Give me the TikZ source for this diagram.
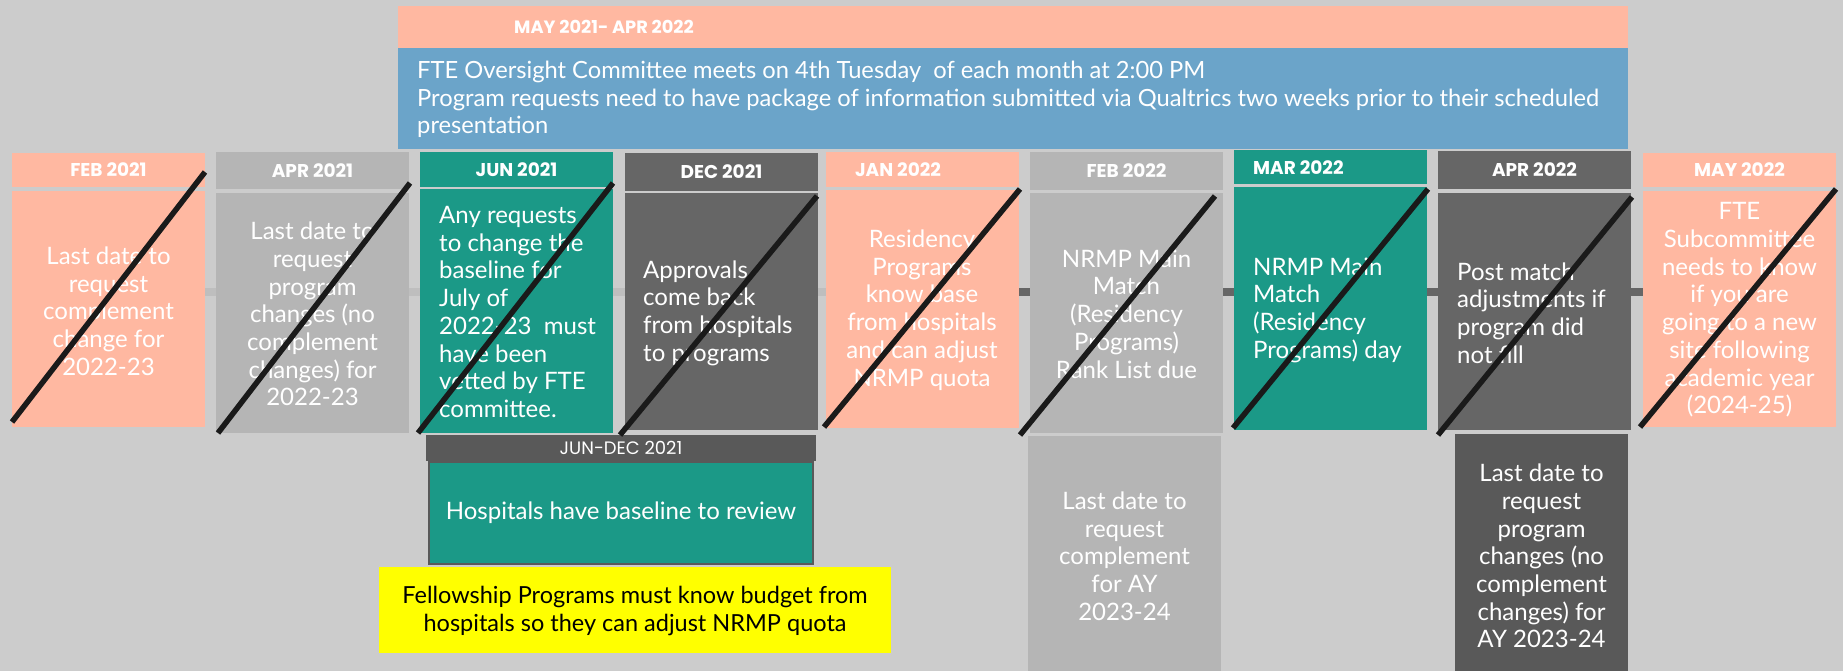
\documentclass[tikz,border=0pt]{standalone}
\usepackage{fontspec}
\setmainfont{Lato}
\newfontfamily\hdrfont{Poppins}
\definecolor{bgc}{HTML}{CCCCCC}
\definecolor{salmon}{HTML}{FFB8A1}
\definecolor{lgrey}{HTML}{B5B5B5}
\definecolor{tealc}{HTML}{1B9987}
\definecolor{dgrey}{HTML}{666666}
\definecolor{ddgrey}{HTML}{595959}
\definecolor{bluec}{HTML}{6BA4C9}
\definecolor{barl}{HTML}{BEBEBE}
\definecolor{slashc}{HTML}{1A1A1A}
\definecolor{yel}{HTML}{FFFF00}
\tikzset{
  rbox/.style={inner sep=0pt, outer sep=0pt, draw=none, anchor=north west},
  hdr/.style={font=\hdrfont\fontsize{18.5}{20}\selectfont\bfseries, text=white, inner sep=0pt},
  bodyc/.style={font=\fontsize{24}{27.7}\selectfont, text=white, inner sep=0pt, align=center},
  bodyl/.style={font=\fontsize{24}{27.7}\selectfont, text=white, inner sep=0pt, align=left, anchor=west},
  slash/.style={draw=slashc, line width=5.5pt},
}
\newcommand\rbx[6]{\node[rbox, fill=#6, minimum width={#4-#2}, minimum height={#5-#3}] (#1) at (#2,#3) {};}
\begin{document}
\begin{tikzpicture}[x=1pt,y=-1pt]
\useasboundingbox (0,0) rectangle (1843,671);
\fill[bgc] (0,0) rectangle (1843,671);
% timeline bar
\fill[barl] (12,288) rectangle (826,296);
\fill[dgrey] (1019,288) rectangle (1836,296);
% top banner
\rbx{banner}{398}{6}{1628}{48}{salmon}
\rbx{info}{398}{48}{1628}{149}{bluec}
\node[hdr, font=\hdrfont\fontsize{17.8}{20}\selectfont\bfseries, anchor=west] (bannert) at (514,27) {MAY 2021- APR 2022};
\node[bodyl, font=\fontsize{23.7}{27.3}\selectfont] (infot) at (417,99.5) {FTE Oversight Committee meets on 4th Tuesday~ of each month at 2:00 PM\\Program requests need to have package of information submitted via Qualtrics two weeks prior to their scheduled\\presentation};
% FEB 2021
\rbx{febh}{12}{153}{205}{187}{salmon}
\rbx{febb}{12}{191}{205}{427}{salmon}
\node[hdr] (febht) at (febh.center) {FEB 2021};
\node[bodyc] (febbt) at (108.5,311) {Last date to\\request\\complement\\change for\\2022-23};
% APR 2021
\rbx{aprh}{216}{152}{409}{189}{lgrey}
\rbx{aprb}{216}{193}{409}{433}{lgrey}
\node[hdr] (aprht) at (aprh.center) {APR 2021};
\node[bodyc] (aprbt) at (312.5,314) {Last date to\\request\\program\\changes (no\\complement\\changes) for\\2022-23};
% JUN 2021
\rbx{junh}{420}{152}{613}{187}{tealc}
\rbx{junb}{420}{189}{613}{433}{tealc}
\node[hdr] (junht) at (junh.center) {JUN 2021};
\node[bodyl] (junbt) at (439,312) {Any requests\\to change the\\baseline for\\July of\\2022-23~ must\\have been\\vetted by FTE\\committee.};
% DEC 2021
\rbx{dech}{625}{153}{818}{191}{dgrey}
\rbx{decb}{625}{193}{818}{430}{dgrey}
\node[hdr] (decht) at (dech.center) {DEC 2021};
\node[bodyl] (decbt) at (643,313) {Approvals\\come back\\from hospitals\\to programs};
% JAN 2022
\rbx{janh}{826}{152}{1019}{187}{salmon}
\rbx{janb}{826}{190}{1019}{428}{salmon}
\node[hdr] (janht) at (898,170) {JAN 2022};
\node[bodyc] (janbt) at (922,310) {Residency\\Programs\\know base\\from hospitals\\and can adjust\\NRMP quota};
% FEB 2022
\rbx{fbbh}{1030}{152}{1223}{190}{lgrey}
\rbx{fbbb}{1030}{193}{1223}{433}{lgrey}
\node[hdr] (fbbht) at (fbbh.center) {FEB 2022};
\node[bodyc] (fbbbt) at (1126.5,314) {NRMP Main\\Match\\(Residency\\Programs)\\Rank List due};
% MAR 2022
\rbx{marh}{1234}{150}{1427}{184}{tealc}
\rbx{marb}{1234}{187}{1427}{430}{tealc}
\node[hdr, anchor=west] (marht) at (1253,168) {MAR 2022};
\node[bodyl] (marbt) at (1253,310) {NRMP Main\\Match\\(Residency\\Programs) day};
% APR 2022
\rbx{apbh}{1438}{151}{1631}{189}{dgrey}
\rbx{apbb}{1438}{193}{1631}{430}{dgrey}
\node[hdr] (apbht) at (apbh.center) {APR 2022};
\node[bodyl] (apbbt) at (1457,313) {Post match\\adjustments if\\program did\\not fill};
% MAY 2022
\rbx{mayh}{1643}{153}{1836}{187}{salmon}
\rbx{mayb}{1643}{191}{1836}{427}{salmon}
\node[hdr] (mayht) at (mayh.center) {MAY 2022};
\node[bodyc] (maybt) at (1739.5,310) {FTE\\Subcommittee\\needs to know\\if you are\\going to a new\\site following\\academic year\\(2024-25)};
% JUN-DEC 2021
\rbx{jdh}{426}{435}{816}{461}{ddgrey}
\node[font=\hdrfont\fontsize{18}{20}\selectfont, text=white, inner sep=0pt] (jdht) at (jdh.center) {JUN-DEC 2021};
\node[rbox, fill=tealc, draw=ddgrey, line width=2pt, minimum width=384, minimum height=102] (hosp) at (429,461.5) {};
\node[bodyc] (hospt) at (621,513) {Hospitals have baseline to review};
% Fellowship
\rbx{fell}{379}{567}{891}{653}{yel}
\node[bodyc, text=black, font=\fontsize{23.5}{27.5}\selectfont] (fellt) at (635,611) {Fellowship Programs must know budget from\\hospitals so they can adjust NRMP quota};
% lower boxes
\rbx{fblow}{1028}{436}{1221}{671}{lgrey}
\node[bodyc] (fblowt) at (1124.5,556) {Last date to\\request\\complement\\for AY\\2023-24};
\rbx{aplow}{1455}{434}{1628}{671}{ddgrey}
\node[bodyc] (aplowt) at (1541.5,556) {Last date to\\request\\program\\changes (no\\complement\\changes) for\\AY 2023-24};
% slashes
\draw[slash] (12,422) -- (205,172);
\draw[slash] (218,433) -- (410,183);
\draw[slash] (418,433) -- (613,183);
\draw[slash] (620,435) -- (817,196);
\draw[slash] (824,427) -- (1020,189);
\draw[slash] (1020,435) -- (1215,196);
\draw[slash] (1233,428) -- (1428,189);
\draw[slash] (1438,435) -- (1632,197);
\draw[slash] (1640,427) -- (1836,189);
\end{tikzpicture}
\end{document}
